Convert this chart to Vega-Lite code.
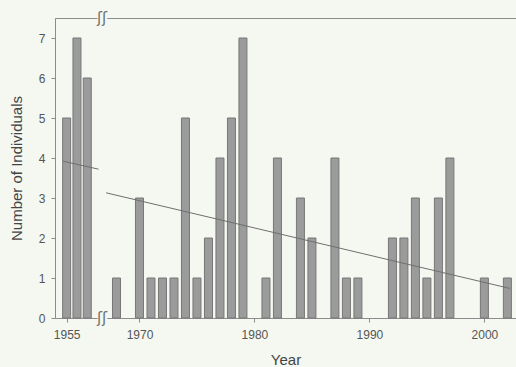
{
  "$schema": "https://vega.github.io/schema/vega-lite/v6.json",
  "autosize": {"type": "none"},
  "padding": {"left": 55, "top": 18, "right": 0, "bottom": 49},
  "width": 461,
  "height": 300,
  "background": "#f4f8f1",
  "config": {
    "view": {"stroke": "#8c8c8c", "strokeWidth": 1},
    "font": "Liberation Sans",
    "axis": {
      "domainColor": "#8c8c8c",
      "tickColor": "#8c8c8c",
      "labelColor": "#555555",
      "titleColor": "#444444",
      "labelFont": "Liberation Sans",
      "titleFont": "Liberation Sans",
      "labelFontSize": 12,
      "titleFontSize": 15,
      "titleFontWeight": "normal",
      "grid": false,
      "tickSize": 4,
      "zindex": 0
    }
  },
  "datasets": {
    "counts": [
      {"year": 1955, "n": 5}, {"year": 1956, "n": 7}, {"year": 1957, "n": 6},
      {"year": 1968, "n": 1}, {"year": 1970, "n": 3}, {"year": 1971, "n": 1},
      {"year": 1972, "n": 1}, {"year": 1973, "n": 1}, {"year": 1974, "n": 5},
      {"year": 1975, "n": 1}, {"year": 1976, "n": 2}, {"year": 1977, "n": 4},
      {"year": 1978, "n": 5}, {"year": 1979, "n": 7}, {"year": 1981, "n": 1},
      {"year": 1982, "n": 4}, {"year": 1984, "n": 3}, {"year": 1985, "n": 2},
      {"year": 1987, "n": 4}, {"year": 1988, "n": 1}, {"year": 1989, "n": 1},
      {"year": 1992, "n": 2}, {"year": 1993, "n": 2}, {"year": 1994, "n": 3},
      {"year": 1995, "n": 1}, {"year": 1996, "n": 3}, {"year": 1997, "n": 4},
      {"year": 2000, "n": 1}, {"year": 2002, "n": 1}
    ],
    "trend": [
      {"seg": "a", "year": 1954.65, "n": 3.92},
      {"seg": "a", "year": 1958.1, "n": 3.72},
      {"seg": "b", "year": 1967.1, "n": 3.13},
      {"seg": "b", "year": 2002.2, "n": 0.74}
    ]
  },
  "layer": [
    {
      "data": {"name": "counts"},
      "mark": {"type": "bar", "width": 8, "fill": "#9b9b9b", "stroke": "#777777", "strokeWidth": 1},
      "encoding": {
        "x": {
          "field": "year", "type": "quantitative", "title": "Year",
          "scale": {"domain": [1954.4, 1958.43, 1966.74, 2002.22], "range": [0, 47, 47, 461], "nice": false, "zero": false},
          "axis": {"values": [1955, 1970, 1980, 1990, 2000], "format": "d", "labelPadding": 7, "titlePadding": 12}
        },
        "y": {
          "field": "n", "type": "quantitative", "title": "Number of Individuals",
          "scale": {"domain": [0, 7.5], "nice": false},
          "axis": {"values": [0, 1, 2, 3, 4, 5, 6, 7], "labelPadding": 6, "titlePadding": 14}
        }
      }
    },
    {
      "data": {"name": "trend"},
      "mark": {"type": "line", "color": "#6f6f6f", "strokeWidth": 1},
      "encoding": {
        "x": {"field": "year", "type": "quantitative", "scale": {"domain": [1954.4, 1958.43, 1966.74, 2002.22], "range": [0, 47, 47, 461], "nice": false, "zero": false}},
        "y": {"field": "n", "type": "quantitative"},
        "detail": {"field": "seg"}
      }
    },
    {
      "data": {"values": [{"edge": "top"}]},
      "mark": {"type": "rect", "fill": "#f4f8f1"},
      "encoding": {
        "x": {"datum": 1958.0, "type": "quantitative"},
        "x2": {"datum": 1967.2},
        "y": {"datum": 7.42, "type": "quantitative"},
        "y2": {"datum": 7.58}
      }
    },
    {
      "data": {"values": [{"edge": "bottom"}]},
      "mark": {"type": "rect", "fill": "#f4f8f1"},
      "encoding": {
        "x": {"datum": 1958.0, "type": "quantitative"},
        "x2": {"datum": 1967.2},
        "y": {"datum": -0.08, "type": "quantitative"},
        "y2": {"datum": 0.08}
      }
    },
    {
      "data": {"values": [{"pos": 0}, {"pos": 7.5}]},
      "mark": {"type": "text", "text": "ʃʃ", "font": "DejaVu Sans", "fontSize": 15, "color": "#6f6f6f", "baseline": "middle", "align": "center"},
      "encoding": {
        "x": {"datum": 1962, "type": "quantitative"},
        "y": {"field": "pos", "type": "quantitative"}
      }
    }
  ]
}
